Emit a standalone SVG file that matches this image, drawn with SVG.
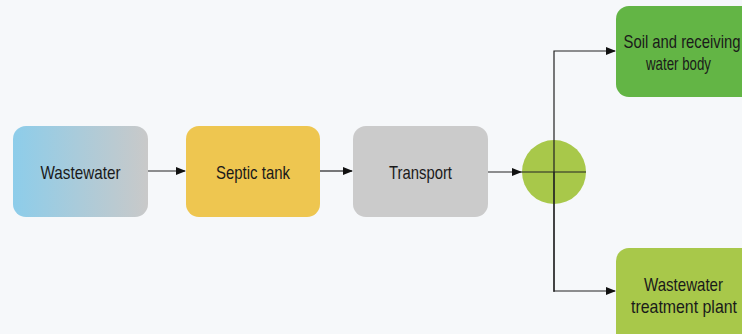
<svg xmlns="http://www.w3.org/2000/svg" width="742" height="334" viewBox="0 0 742 334">
<defs>
<linearGradient id="g1" x1="0" y1="0" x2="1" y2="0">
<stop offset="0" stop-color="#8dcdea"/>
<stop offset="1" stop-color="#c9c9c9"/>
</linearGradient>
<marker id="ah" markerWidth="10" markerHeight="8" refX="9" refY="4" orient="auto" markerUnits="userSpaceOnUse">
<path d="M0,0 L10,4 L0,8 Z" fill="#111"/>
</marker>
<style>
.lbl{font-family:"Liberation Sans",Arial,sans-serif;font-size:19px;fill:#1a1a1a;text-anchor:middle}
.ln{stroke:#222;stroke-width:1.2;fill:none}
</style>
</defs>
<rect width="742" height="334" fill="#f6f8fa"/>
<g id="wastewater"><rect x="13" y="126" width="135" height="91" rx="13" fill="url(#g1)"/><text class="lbl" x="80.5" y="179" textLength="80" lengthAdjust="spacingAndGlyphs">Wastewater</text></g>
<g id="septic"><rect x="186" y="126" width="134" height="91" rx="13" fill="#eec650"/><text class="lbl" x="253" y="179" textLength="74" lengthAdjust="spacingAndGlyphs">Septic tank</text></g>
<g id="transport"><rect x="353" y="126" width="135" height="91" rx="13" fill="#cbcbcb"/><text class="lbl" x="420.5" y="179" textLength="63" lengthAdjust="spacingAndGlyphs">Transport</text></g>
<g id="junction"><circle cx="554" cy="172" r="32" fill="#a8c84a"/></g>
<g id="soil"><rect x="616" y="6" width="140" height="91" rx="13" fill="#63b545"/><text class="lbl" x="682" y="48" textLength="117" lengthAdjust="spacingAndGlyphs">Soil and receiving</text><text class="lbl" x="678.5" y="70" textLength="65" lengthAdjust="spacingAndGlyphs">water body</text></g>
<g id="wwtp"><rect x="616" y="248" width="140" height="100" rx="13" fill="#a8c84a"/><text class="lbl" x="683.5" y="291" textLength="79" lengthAdjust="spacingAndGlyphs">Wastewater</text><text class="lbl" x="684" y="313" textLength="106" lengthAdjust="spacingAndGlyphs">treatment plant</text></g>
<g id="connectors">
<line class="ln" x1="148" y1="171" x2="185" y2="171" marker-end="url(#ah)"/>
<line class="ln" x1="320" y1="171" x2="352" y2="171" marker-end="url(#ah)"/>
<line class="ln" x1="488" y1="172" x2="521" y2="172" marker-end="url(#ah)"/>
<line class="ln" x1="521" y1="172" x2="586" y2="172"/>
<path class="ln" d="M554,292 L554,51 L615,51" marker-end="url(#ah)"/>
<path class="ln" d="M554,172 L554,291 L615,291" marker-end="url(#ah)"/>
</g>
</svg>
